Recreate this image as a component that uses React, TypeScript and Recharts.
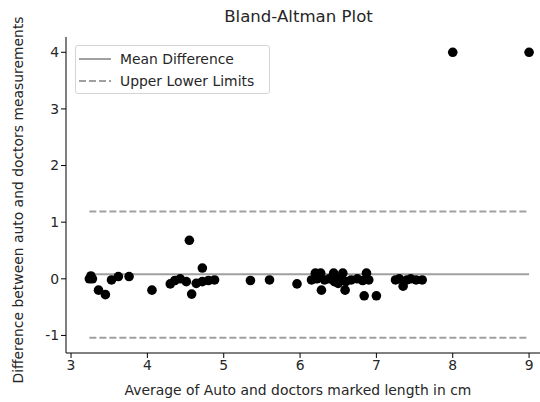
import React from 'react';
import {
  ScatterChart,
  Scatter,
  XAxis,
  YAxis,
  ReferenceLine,
} from 'recharts';

// averages (cm) and differences
const averages = [
  3.24, 3.26, 3.28, 3.36, 3.45, 3.53, 3.62, 3.76, 4.06, 4.3, 4.36, 4.43, 4.51, 4.55, 4.58,
  4.64, 4.72, 4.72, 4.8, 4.88, 5.35, 5.6, 5.96, 6.15, 6.2, 6.22, 6.27, 6.28, 6.32, 6.38,
  6.44, 6.45, 6.5, 6.52, 6.56, 6.59, 6.6, 6.67, 6.75, 6.82, 6.84, 6.87, 6.9, 7.0, 7.25,
  7.3, 7.35, 7.4, 7.45, 7.52, 7.6, 8.0, 9.0,
];
const differences = [
  0.0, 0.05, 0.0, -0.2, -0.28, -0.02, 0.04, 0.04, -0.2, -0.09, -0.03, 0.0, -0.05, 0.68, -0.27,
  -0.08, 0.19, -0.05, -0.03, -0.02, -0.03, -0.02, -0.09, -0.02, 0.1, 0.0, 0.1, -0.2, -0.02, 0.0,
  0.1, -0.05, -0.08, 0.0, 0.1, -0.2, -0.05, -0.02, 0.0, -0.03, -0.3, 0.1, -0.02, -0.3, -0.02,
  0.0, -0.13, -0.02, 0.0, -0.02, -0.02, 4.0, 4.0,
];
const meanDiff = 0.08;
const upperLimit = 1.19;
const lowerLimit = -1.04;
const xTicks = [3, 4, 5, 6, 7, 8, 9];
const yTicks = [-1, 0, 1, 2, 3, 4];

const points = averages.map((x, i) => ({ x, y: differences[i] }));
const xMin = Math.min(...averages);
const xMax = Math.max(...averages);

const font = '"DejaVu Sans", sans-serif';
const textColor = '#262626';
const lineGray = '#a0a0a0';
const fs = 13.9;

const Dot = (p: any) => <circle cx={p.cx} cy={p.cy} r={4.8} fill="#000" />;

export default function App() {
  return (
    <div style={{ position: 'absolute', left: 0, top: 0, width: 540, height: 402, overflow: 'hidden', background: '#fff', fontFamily: font }}>
      <ScatterChart width={540} height={402} margin={{ top: 37, right: 0, bottom: 0, left: 0 }}>
        <XAxis
          type="number"
          dataKey="x"
          domain={[2.934, 9.143]}
          ticks={xTicks}
          allowDataOverflow
          height={49}
          tickSize={5}
          stroke="#000"
          tick={{ fill: textColor, fontSize: fs, fontFamily: font }}
          label={{ value: 'Average of Auto and doctors marked length in cm', position: 'insideBottom', offset: 7, dx: -5, style: { fill: textColor, fontSize: fs, fontFamily: font } }}
        />
        <XAxis xAxisId="top" orientation="top" type="number" domain={[2.934, 9.143]} height={0} tick={false} tickLine={false} stroke="#000" />
        <YAxis
          type="number"
          dataKey="y"
          domain={[-1.31, 4.27]}
          ticks={yTicks}
          allowDataOverflow
          width={66}
          tickSize={5}
          stroke="#000"
          tick={{ fill: textColor, fontSize: fs, fontFamily: font }}
          label={{ value: 'Difference between auto and doctors measurements', angle: -90, position: 'insideLeft', offset: 18, dy: 5, style: { textAnchor: 'middle', fill: textColor, fontSize: fs, fontFamily: font } }}
        />
        <Scatter data={points} shape={Dot} isAnimationActive={false} />
        <ReferenceLine segment={[{ x: xMin, y: meanDiff }, { x: xMax, y: meanDiff }]} stroke={lineGray} strokeWidth={2} />
        <ReferenceLine segment={[{ x: xMin, y: upperLimit }, { x: xMax, y: upperLimit }]} stroke={lineGray} strokeWidth={2} strokeDasharray="7 3" />
        <ReferenceLine segment={[{ x: xMin, y: lowerLimit }, { x: xMax, y: lowerLimit }]} stroke={lineGray} strokeWidth={2} strokeDasharray="7 3" />
      </ScatterChart>

      <div style={{ position: 'absolute', left: 0, top: 7, width: 597, textAlign: 'center', fontSize: 16.6, color: textColor }}>
        Bland-Altman Plot
      </div>

      <div
        style={{
          position: 'absolute',
          left: 75,
          top: 45,
          width: 193,
          height: 47,
          border: '1px solid #d5d5d5',
          borderRadius: 3,
          background: 'rgba(255,255,255,0.8)',
          fontSize: fs,
          color: textColor,
        }}
      >
        <svg width={40} height={47} style={{ position: 'absolute', left: 0, top: 0 }}>
          <line x1={3} x2={35} y1={13} y2={13} stroke={lineGray} strokeWidth={2} />
          <line x1={3} x2={35} y1={35} y2={35} stroke={lineGray} strokeWidth={2} strokeDasharray="7 3" />
        </svg>
        <div style={{ position: 'absolute', left: 44, top: 3, lineHeight: '20px' }}>Mean Difference</div>
        <div style={{ position: 'absolute', left: 44, top: 25, lineHeight: '20px' }}>Upper Lower Limits</div>
      </div>
    </div>
  );
}
